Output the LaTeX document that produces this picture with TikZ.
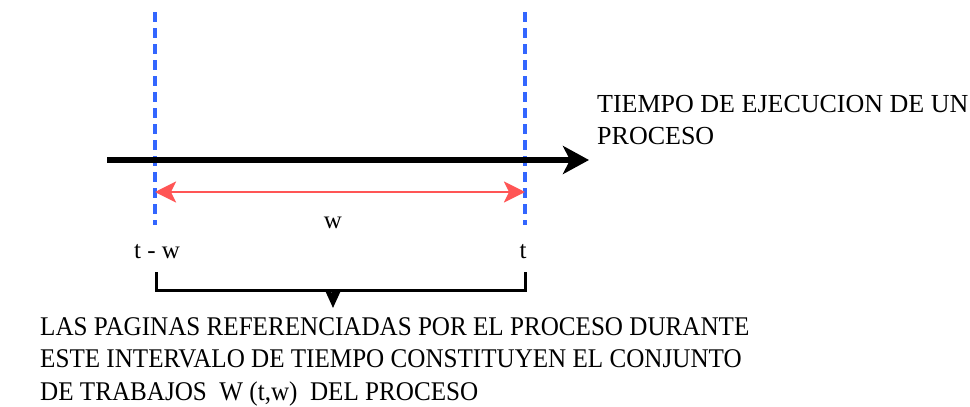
\documentclass[tikz,border=0pt]{standalone}
\usepackage{fontspec}
\setmainfont{Liberation Serif}
\newfontfamily\estrecha[FakeStretch=0.93]{Liberation Serif}
\usetikzlibrary{arrows.meta, positioning}
\definecolor{azulguia}{RGB}{51,102,255}
\definecolor{rojoint}{RGB}{255,85,85}
\tikzset{
  guia/.style={draw=azulguia, line width=3.2pt, dash pattern=on 10pt off 6pt},
  eje/.style={-{Stealth[length=26pt,width=28pt,inset=7pt]}, line width=6pt},
  intv/.style={{Stealth[length=21pt,width=21pt,inset=5pt]}-{Stealth[length=21pt,width=21pt,inset=5pt]},
    draw=rojoint, line width=2.8pt},
  llave/.style={line width=3pt},
  flecha/.style={-{Stealth[length=18pt,width=16pt,inset=3pt]}, line width=3pt},
  lbl/.style={font=\fontsize{25}{27}\selectfont, inner sep=0pt},
  nota/.style={font=\fontsize{26}{32}\selectfont, align=left, inner sep=0pt},
  notac/.style={font=\estrecha\fontsize{27}{32.5}\selectfont, align=left, inner sep=0pt}
}

\begin{document}
\begin{tikzpicture}[x=1pt, y=-1pt]
  \useasboundingbox (0,0) rectangle (970,407);

  % guias verticales
  \coordinate (ia) at (155,12);
  \coordinate (ib) at (155,225);
  \coordinate (fa) at (525,12);
  \coordinate (fb) at (525,225);
  \draw[guia] (ia) -- (ib);
  \draw[guia] (fa) -- (fb);

  % eje del tiempo
  \coordinate (e0) at (107,160);
  \coordinate (e1) at (589,160);
  \draw[eje] (e0) -- (e1);
  \node[nota, anchor=north west] (tiempo) at (597,95)
        {TIEMPO DE EJECUCION DE UN\\PROCESO};

  % intervalo w
  \coordinate (w0) at (155,192);
  \coordinate (w1) at (525,192);
  \draw[intv] (w0) -- (w1);
  \node[lbl, anchor=base] (w) at (333,228) {w};

  \node[lbl, anchor=base] (tw) at (157,258) {t - w};
  \node[lbl, anchor=base] (t)  at (523,258) {t};

  % llave inferior
  \coordinate (l0) at (156,272);
  \coordinate (l1) at (525,272);
  \coordinate (lm) at (333,290);
  \coordinate (lp) at (333,308);
  \draw[llave] (l0) |- (lm) -| (l1);
  \draw[flecha] (lm) -- (lp);

  \node[notac, anchor=north west] (conj) at (40,317)
        {LAS PAGINAS REFERENCIADAS POR EL PROCESO DURANTE\\
         ESTE INTERVALO DE TIEMPO CONSTITUYEN EL CONJUNTO\\
         DE TRABAJOS\ \ W (t,w)\ \ DEL PROCESO};

\end{tikzpicture}
\end{document}
